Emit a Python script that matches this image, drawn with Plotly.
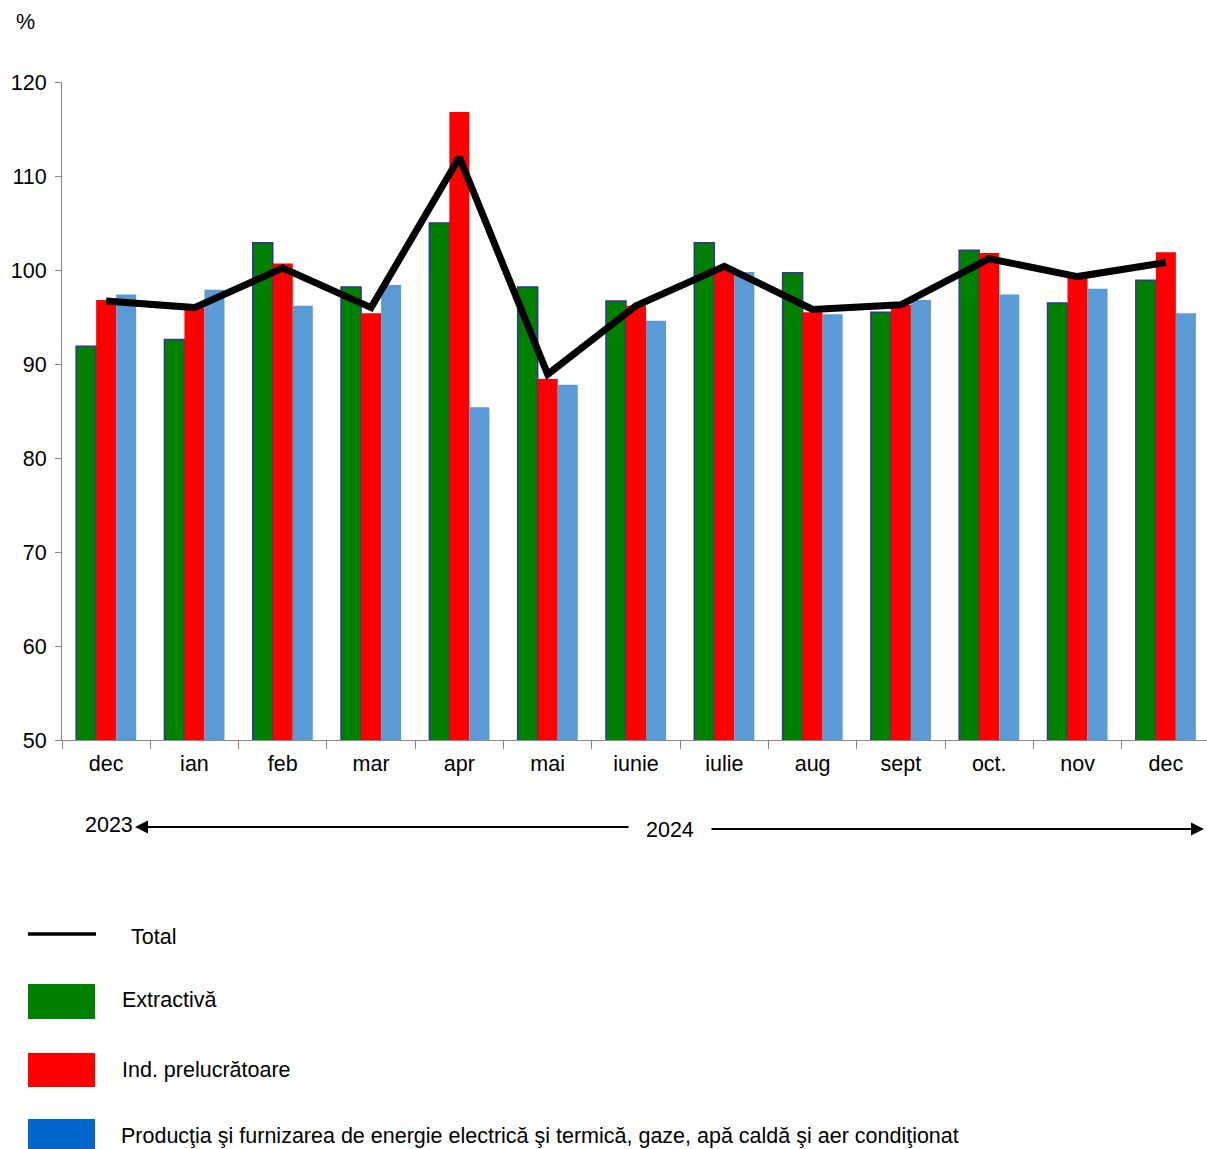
import plotly.graph_objects as go

categories = ["dec 2023", "ian", "feb", "mar", "apr", "mai", "iunie", "iulie", "aug", "sept", "oct.", "nov", "dec 2024"]
tick_labels = ["dec", "ian", "feb", "mar", "apr", "mai", "iunie", "iulie", "aug", "sept", "oct.", "nov", "dec"]

extractiva = [91.9, 92.6, 102.9, 98.2, 105.0, 98.2, 96.7, 102.9, 99.7, 95.5, 102.1, 96.5, 98.9]
prelucratoare = [96.8, 96.0, 100.7, 95.4, 116.8, 88.4, 96.2, 100.0, 95.5, 96.3, 101.8, 99.3, 101.9]
energie = [97.4, 97.9, 96.2, 98.4, 85.4, 87.8, 94.6, 99.8, 95.3, 96.8, 97.4, 98.0, 95.4]
total = [96.7, 96.0, 100.2, 96.0, 112.0, 88.9, 96.2, 100.4, 95.8, 96.3, 101.2, 99.3, 100.8]

names = ["Total", "Extractivă", "Ind. prelucrătoare",
         "Producţia şi furnizarea de energie electrică şi termică, gaze, apă caldă şi aer condiţionat"]

W, H = 1212, 1149
L, R, T, B = 62, 1210, 82, 740
FONT = "Liberation Sans, Arial, sans-serif"
FS = 21.5


def px(x):
    return (x - L) / (R - L)


def py(y):
    return (B - y) / (B - T)


fig = go.Figure()
fig.add_trace(go.Bar(x=categories, y=extractiva, name=names[1], marker=dict(color="#008000", line=dict(color="#333399", width=1.5))))
fig.add_trace(go.Bar(x=categories, y=prelucratoare, name=names[2], marker=dict(color="#FF0000", line=dict(width=0))))
fig.add_trace(go.Bar(x=categories, y=energie, name=names[3], marker=dict(color="#5B9BD5", line=dict(width=0))))
fig.add_trace(go.Scatter(x=categories, y=total, name=names[0], mode="lines", line=dict(color="black", width=7)))

shapes = []
annotations = []

# legend
shapes.append(dict(type="line", xref="paper", yref="paper", x0=px(28), x1=px(96), y0=py(934), y1=py(934),
                   line=dict(color="black", width=3.5)))
rects = [(984, 1019, "#008000"), (1053, 1087, "#FF0000"), (1119, 1155, "#0066CC")]
for y0, y1, c in rects:
    shapes.append(dict(type="rect", xref="paper", yref="paper", x0=px(28), x1=px(95), y0=py(y1), y1=py(y0),
                       fillcolor=c, line=dict(width=0)))
legend_text = [(129, 937, names[0]), (120, 1000, names[1]), (120, 1070, names[2]), (119, 1136, names[3])]
for x, y, t in legend_text:
    annotations.append(dict(xref="paper", yref="paper", x=px(x), y=py(y), text=t, showarrow=False,
                            xanchor="left", yanchor="middle", font=dict(size=FS, color="black", family=FONT)))

# % label
annotations.append(dict(xref="paper", yref="paper", x=px(25), y=py(22), text="%", showarrow=False,
                        xanchor="center", yanchor="middle", font=dict(size=FS, color="black", family=FONT)))
# years
annotations.append(dict(xref="paper", yref="paper", x=px(109), y=py(825), text="2023", showarrow=False,
                        xanchor="center", yanchor="middle", font=dict(size=FS, color="black", family=FONT)))
annotations.append(dict(xref="paper", yref="paper", x=px(670), y=py(830), text="2024", showarrow=False,
                        xanchor="center", yanchor="middle", font=dict(size=FS, color="black", family=FONT)))
# arrows
annotations.append(dict(xref="paper", yref="paper", x=px(135), y=py(827), ax=495, ay=0, text="",
                        showarrow=True, arrowhead=2, arrowsize=1.3, arrowwidth=2, arrowcolor="black"))
annotations.append(dict(xref="paper", yref="paper", x=px(1204), y=py(829), ax=-494, ay=0, text="",
                        showarrow=True, arrowhead=2, arrowsize=1.3, arrowwidth=2, arrowcolor="black"))

fig.update_layout(
    width=W, height=H,
    margin=dict(l=L, r=W - R, t=T, b=H - B),
    paper_bgcolor="white", plot_bgcolor="white",
    barmode="group", bargap=0.32, bargroupgap=0,
    showlegend=False,
    font=dict(family=FONT, size=FS, color="black"),
    shapes=shapes, annotations=annotations,
    xaxis=dict(type="category", tickmode="array", tickvals=categories, ticktext=tick_labels,
               tickson="boundaries", ticks="outside", ticklen=8, tickcolor="#888888",
               showline=True, linecolor="#888888", linewidth=1, showgrid=False,
               ticklabelstandoff=4,
               tickfont=dict(size=FS, color="black", family=FONT)),
    yaxis=dict(range=[50, 120], dtick=10, ticks="outside", ticklen=6, tickcolor="#888888",
               showline=True, linecolor="#888888", linewidth=1, showgrid=False, zeroline=False,
               ticklabelstandoff=4,
               tickfont=dict(size=FS, color="black", family=FONT)),
)

fig.write_html("out.html", config={"displayModeBar": False},
               post_script="document.body.style.margin='0';document.body.style.overflow='hidden';")
